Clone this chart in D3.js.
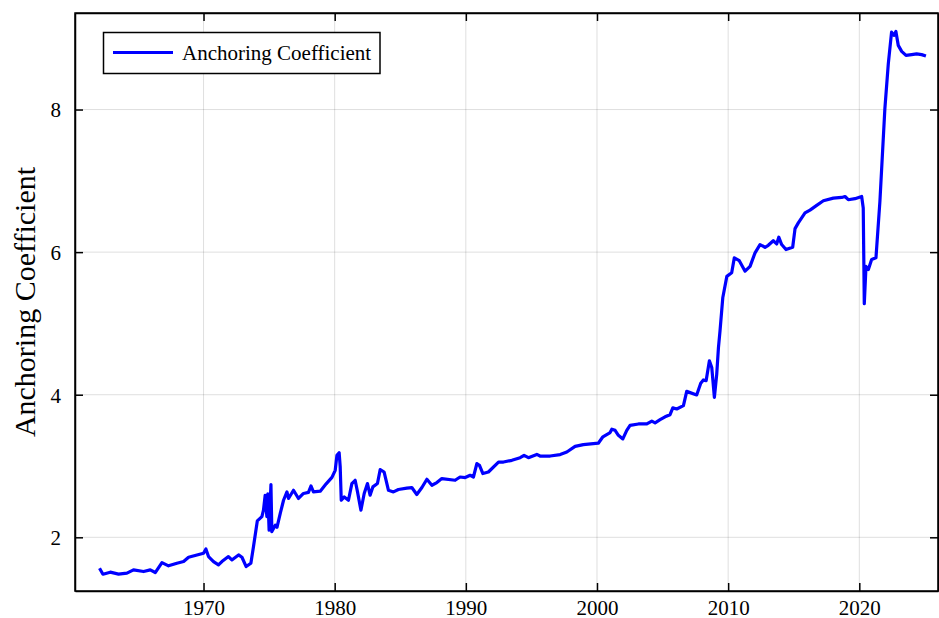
<html>
<script src="https://d3js.org/d3.v7.min.js"></script>
<style>
	body { margin: 0; background: white; }
	text { font-family: "Liberation Serif", "Times New Roman", serif; }
</style>
<body>
<svg id="chart" width=939 height=618></svg>
<script>
// series
var years = [1962.07, 1962.33, 1962.89, 1963.52, 1964.16, 1964.66, 1965.43, 1965.94, 1966.32, 1966.83,
	1967.33, 1967.97, 1968.48, 1968.86, 1969.5, 1970.0, 1970.18, 1970.38, 1970.76, 1971.14,
	1971.4, 1971.9, 1972.16, 1972.67, 1972.93, 1973.25, 1973.61, 1973.81, 1974.1, 1974.45,
	1974.57, 1974.7, 1974.83, 1974.9, 1975.0, 1975.14, 1975.21, 1975.47, 1975.6, 1975.85,
	1976.1, 1976.36, 1976.48, 1976.86, 1977.24, 1977.62, 1978.0, 1978.19, 1978.38, 1978.9,
	1979.35, 1979.79, 1980.04, 1980.17, 1980.34, 1980.42, 1980.5, 1980.73, 1981.05, 1981.31,
	1981.56, 1981.74, 1982.0, 1982.25, 1982.5, 1982.7, 1982.91, 1983.26, 1983.47, 1983.77,
	1984.1, 1984.48, 1984.86, 1985.5, 1985.88, 1986.26, 1986.65, 1987.03, 1987.41, 1987.79,
	1988.17, 1989.18, 1989.56, 1989.95, 1990.33, 1990.58, 1990.84, 1991.04, 1991.3, 1991.72,
	1992.49, 1992.87, 1993.51, 1994.14, 1994.44, 1994.77, 1995.41, 1995.66, 1996.43, 1997.19,
	1997.7, 1998.33, 1998.96, 2000.1, 2000.45, 2001.0, 2001.13, 2001.38, 2001.63, 2001.97,
	2002.27, 2002.52, 2003.16, 2003.8, 2004.18, 2004.43, 2004.81, 2005.19, 2005.57, 2005.78,
	2006.08, 2006.59, 2006.84, 2007.6, 2007.91, 2008.11, 2008.32, 2008.57, 2008.75, 2008.95,
	2009.13, 2009.26, 2009.38, 2009.59, 2009.9, 2010.27, 2010.47, 2010.85, 2011.29, 2011.67,
	2012.05, 2012.43, 2012.81, 2013.06, 2013.44, 2013.7, 2013.86, 2014.08, 2014.41, 2014.92,
	2015.1, 2015.35, 2015.86, 2016.24, 2016.75, 2017.26, 2018.02, 2018.66, 2018.91, 2019.16,
	2019.67, 2020.18, 2020.3, 2020.38, 2020.51, 2020.69, 2020.94, 2021.27, 2021.57, 2021.95,
	2022.21, 2022.46, 2022.64, 2022.79, 2022.97, 2023.23, 2023.56, 2023.99, 2024.37, 2024.75,
	2025.08]
var values = [1.567, 1.483, 1.511, 1.483, 1.497, 1.543, 1.52, 1.543, 1.506, 1.645,
	1.60, 1.637, 1.66, 1.72, 1.753, 1.777, 1.837, 1.73, 1.66, 1.613,
	1.66, 1.73, 1.683, 1.753, 1.72, 1.59, 1.637, 1.87, 2.23, 2.29,
	2.38, 2.59, 2.29, 2.61, 2.10, 2.74, 2.08, 2.17, 2.14, 2.335,
	2.52, 2.637, 2.545, 2.66, 2.545, 2.615, 2.63, 2.72, 2.637, 2.647,
	2.75, 2.84, 2.94, 3.15, 3.187, 2.99, 2.52, 2.567, 2.52, 2.754,
	2.80, 2.637, 2.38, 2.615, 2.754, 2.59, 2.707, 2.754, 2.95, 2.916,
	2.66, 2.637, 2.67, 2.69, 2.698, 2.60, 2.698, 2.814, 2.73, 2.768,
	2.824, 2.80, 2.846, 2.838, 2.87, 2.846, 3.033, 3.01, 2.894, 2.916,
	3.056, 3.056, 3.08, 3.117, 3.15, 3.117, 3.163, 3.14, 3.14, 3.16,
	3.196, 3.275, 3.30, 3.32, 3.41, 3.47, 3.517, 3.5, 3.43, 3.38,
	3.5, 3.57, 3.59, 3.59, 3.63, 3.606, 3.65, 3.69, 3.72, 3.815,
	3.80, 3.848, 4.047, 3.997, 4.16, 4.207, 4.197, 4.476, 4.383, 3.964,
	4.29, 4.66, 4.895, 5.36, 5.66, 5.71, 5.92, 5.88, 5.733, 5.80,
	5.99, 6.106, 6.068, 6.096, 6.16, 6.115, 6.21, 6.106, 6.036, 6.068,
	6.33, 6.41, 6.55, 6.59, 6.655, 6.72, 6.757, 6.767, 6.78, 6.735,
	6.75, 6.78, 6.62, 5.277, 5.80, 5.757, 5.897, 5.92, 6.71, 8.014,
	8.64, 9.085, 9.04, 9.095, 8.90, 8.816, 8.76, 8.77, 8.78, 8.77,
	8.75]
var xTicks = [1970, 1980, 1990, 2000, 2010, 2020]
var yTicks = [2, 4, 6, 8]
var seriesName = "Anchoring Coefficient"

function draw() {
	var svg = d3.select("#chart")
	var pLeft = 75, pTop = 13, pRight = 938, pBottom = 591

	var x = d3.scaleLinear().domain([1960.2, 2026.0]).range([pLeft, pRight])
	var y = d3.scaleLinear().domain([1.247, 9.354]).range([pBottom, pTop])

	// grid
	svg.append("g").selectAll("line").data(xTicks).enter().append("line")
		.attr("x1", d => x(d)).attr("x2", d => x(d))
		.attr("y1", pTop).attr("y2", pBottom)
		.attr("stroke", "#000").attr("stroke-opacity", 0.13).attr("stroke-width", 1)
	svg.append("g").selectAll("line").data(yTicks).enter().append("line")
		.attr("y1", d => y(d)).attr("y2", d => y(d))
		.attr("x1", pLeft).attr("x2", pRight)
		.attr("stroke", "#000").attr("stroke-opacity", 0.13).attr("stroke-width", 1)

	// axes, ticks pointing inward
	var fontSize = "21px"
	var gx = svg.append("g").attr("transform", "translate(0," + pBottom + ")")
		.call(d3.axisBottom(x).tickValues(xTicks).tickFormat(d3.format("d")).tickSizeInner(-8).tickSizeOuter(0))
	var gxTop = svg.append("g").attr("transform", "translate(0," + pTop + ")")
		.call(d3.axisTop(x).tickValues(xTicks).tickFormat("").tickSizeInner(-8).tickSizeOuter(0))
	var gy = svg.append("g").attr("transform", "translate(" + pLeft + ",0)")
		.call(d3.axisLeft(y).tickValues(yTicks).tickFormat(d3.format("d")).tickSizeInner(-8).tickSizeOuter(0))
	var gyRight = svg.append("g").attr("transform", "translate(" + pRight + ",0)")
		.call(d3.axisRight(y).tickValues(yTicks).tickFormat("").tickSizeInner(-8).tickSizeOuter(0))
	;[gx, gxTop, gy, gyRight].forEach(function (g) {
		g.selectAll(".domain").attr("stroke", "#000").attr("stroke-width", 1.5)
		g.selectAll(".tick line").attr("stroke", "#000").attr("stroke-width", 1.5)
		g.selectAll("text").style("font-size", fontSize).attr("fill", "#000")
			.style("font-family", "'Liberation Serif', 'Times New Roman', serif")
	})
	gx.selectAll("text").attr("y", 9).attr("dy", "0.71em")
	gy.selectAll("text").attr("x", -14).attr("dy", "0.35em")

	// frame
	svg.append("rect").attr("x", pLeft).attr("y", pTop)
		.attr("width", pRight - pLeft).attr("height", pBottom - pTop)
		.attr("fill", "none").attr("stroke", "#000").attr("stroke-width", 1.5)

	// the series
	var line = d3.line().x((d, i) => x(years[i])).y(d => y(d))
	svg.append("path").datum(values)
		.attr("d", line)
		.attr("fill", "none")
		.attr("stroke", "#0000ff")
		.attr("stroke-width", 3.2)
		.attr("stroke-linejoin", "round")

	// y label
	svg.append("text")
		.attr("transform", "translate(24," + ((pTop + pBottom) / 2) + ") rotate(-90)")
		.attr("text-anchor", "middle")
		.attr("dy", "0.35em")
		.style("font-size", "30px")
		.text(seriesName)

	// legend
	var leg = svg.append("g")
	leg.append("rect").attr("x", 103.5).attr("y", 32.5).attr("width", 276.5).attr("height", 41)
		.attr("fill", "white").attr("stroke", "#000").attr("stroke-width", 1.5)
	leg.append("line").attr("x1", 113).attr("x2", 173).attr("y1", 52.5).attr("y2", 52.5)
		.attr("stroke", "#0000ff").attr("stroke-width", 3)
	leg.append("text").attr("x", 182).attr("y", 53).attr("dy", "0.35em")
		.style("font-size", "21px")
		.text(seriesName)
}
draw()
</script>
</body>
</html>
